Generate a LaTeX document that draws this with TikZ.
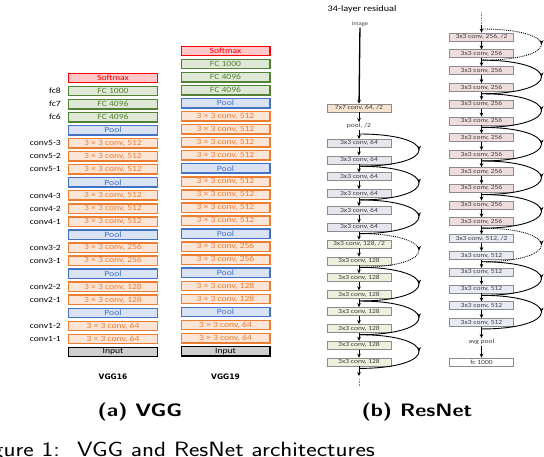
\documentclass[tikz,border=0pt]{standalone}
\usepackage{fontspec}
\usepackage{graphicx}
\newfontfamily\cf[FakeStretch=1.2]{Carlito}
\newfontfamily\dvfont{DejaVu Sans}
\usetikzlibrary{arrows.meta,decorations.markings}
\definecolor{convB}{HTML}{ED7D31}
\definecolor{convF}{HTML}{FBE5D6}
\definecolor{fcB}{HTML}{548235}
\definecolor{fcF}{HTML}{DFE8D6}
\definecolor{plB}{HTML}{4472C4}
\definecolor{plF}{HTML}{DAE3F3}
\definecolor{smB}{HTML}{FF0000}
\definecolor{smF}{HTML}{FFC9CC}
\definecolor{inF}{HTML}{D0CECE}
\definecolor{rbd}{HTML}{8C8C8C}
\definecolor{rtx}{HTML}{404040}
\definecolor{cS}{HTML}{F6E4D0}
\definecolor{cA}{HTML}{E6E6EF}
\definecolor{cB}{HTML}{EEEFDC}
\definecolor{cC}{HTML}{EFDDDD}
\definecolor{cD}{HTML}{E8EBF4}
\newcommand\cvA{3 × 3 conv, 64}
\newcommand\cvB{3 × 3 conv, 128}
\newcommand\cvC{3 × 3 conv, 256}
\newcommand\cvE{3 × 3 conv, 512}
\begin{document}
\begin{tikzpicture}[x=1pt,y=-1pt,
  vbox/.style={draw, line width=1.4pt, minimum width=88.6pt, minimum height=9.4pt, inner sep=0pt, font=\cf\fontsize{8}{8}\selectfont},
  vconv/.style={vbox, draw=convB, fill=convF, text=convB},
  vfc/.style={vbox, draw=fcB, fill=fcF, text=fcB},
  vpool/.style={vbox, draw=plB, fill=plF, text=plB},
  vsoft/.style={vbox, draw=smB, fill=smF, text=smB},
  vinput/.style={vbox, draw=black, fill=inF, text=black},
  vlab/.style={anchor=east, inner sep=0pt, font=\cf\fontsize{8}{8}\selectfont},
  vname/.style={inner sep=0pt, font=\dvfont\bfseries\fontsize{7.5}{7.5}\selectfont},
  rbox/.style={draw=rbd, line width=0.7pt, minimum width=64pt, minimum height=8pt, inner sep=0pt, text=rtx, font=\cf\fontsize{6.3}{6.3}\selectfont},
  rtext/.style={inner sep=1pt, text=rtx, font=\cf\fontsize{6.3}{6.3}\selectfont},
  arr/.style={-{Stealth[length=4pt,width=3.6pt]}, line width=0.9pt},
  resskip/.style={line width=0.9pt, postaction={decorate}, decoration={markings, mark=at position 0.5 with {\arrow{Stealth[length=4.5pt,width=4pt]}}}},
  resdot/.style={resskip, densely dotted},
  capt/.style={inner sep=0pt}
]
\useasboundingbox (0,0) rectangle (544,456);
\clip (0,0) rectangle (544,456);
\fill[white] (0,0) rectangle (544,456);

% ---------------- VGG16 ----------------
\foreach \st/\tx [count=\i from 0] in {vsoft/Softmax, vfc/FC 1000, vfc/FC 4096, vfc/FC 4096, vpool/Pool, vconv/\cvE, vconv/\cvE, vconv/\cvE, vpool/Pool, vconv/\cvE, vconv/\cvE, vconv/\cvE, vpool/Pool, vconv/\cvC, vconv/\cvC, vpool/Pool, vconv/\cvB, vconv/\cvB, vpool/Pool, vconv/\cvA, vconv/\cvA, vinput/Input}
  \node[\st] (a\i) at (113, 78+13.05*\i) {\tx};
\foreach \lb/\i in {fc8/1, fc7/2, fc6/3, conv5-3/5, conv5-2/6, conv5-1/7, conv4-3/9, conv4-2/10, conv4-1/11, conv3-2/13, conv3-1/14, conv2-2/16, conv2-1/17, conv1-2/19, conv1-1/20}
  \node[vlab] (la\i) at ([xshift=-7pt]a\i.west) {\lb};
\node[vname] (n16) at (113,377) {VGG16};

% ---------------- VGG19 ----------------
\foreach \st/\tx [count=\i from 0] in {vsoft/Softmax, vfc/FC 1000, vfc/FC 4096, vfc/FC 4096, vpool/Pool, vconv/\cvE, vconv/\cvE, vconv/\cvE, vconv/\cvE, vpool/Pool, vconv/\cvE, vconv/\cvE, vconv/\cvE, vconv/\cvE, vpool/Pool, vconv/\cvC, vconv/\cvC, vpool/Pool, vconv/\cvB, vconv/\cvB, vpool/Pool, vconv/\cvA, vconv/\cvA, vinput/Input}
  \node[\st] (b\i) at (225.5, 51+13.05*\i) {\tx};
\node[vname] (n19) at (225.5,377) {VGG19};

% ---------------- ResNet, first column ----------------
\node[inner sep=0pt, text=black, font=\cf\fontsize{8.5}{8.5}\selectfont] (title) at (362,9) {34-layer residual};
\node[rtext, font=\cf\fontsize{5.5}{5.5}\selectfont] (img) at (360,24) {image};
\node[rbox, fill=cS] (s7) at (359,108) {7x7 conv, 64, /2};
\node[rtext] (pool) at (359,126) {pool, /2};
\draw[arr, line width=1.3pt] (img) -- (s7);
\draw[arr] (s7) -- (pool);
\draw[arr] (pool) -- (359,139);
\foreach \i in {0,...,5}
  \node[rbox, fill=cA] (m\i) at (359, 143+16.85*\i) {3x3 conv, 64};
\node[rbox, fill=cB] (m6) at (359, 143+16.85*6) {3x3 conv, 128, /2};
\foreach \i in {7,...,13}
  \node[rbox, fill=cB] (m\i) at (359, 143+16.85*\i) {3x3 conv, 128};
\foreach \i in {0,...,12}{
  \pgfmathtruncatemacro\j{\i+1}
  \draw[arr] (m\i) -- (m\j);
}
\coordinate (mj0) at (359,134);
\foreach \k in {1,...,7}{
  \pgfmathtruncatemacro\n{2*\k-1}
  \coordinate (mj\k) at ([yshift=-2pt]m\n.south);
}
\foreach \k in {0,1,2,4,5,6}{
  \pgfmathtruncatemacro\kk{\k+1}
  \draw[resskip] (mj\k) .. controls +(80,0) and +(80,0) .. (mj\kk);
}
\draw[resdot] (mj3) .. controls +(80,0) and +(80,0) .. (mj4);
\coordinate (mend) at (359,376);
\coordinate (mdot1) at (359,379);
\coordinate (mdot2) at (359,387);
\draw[arr] (m13) -- (mend);
\draw[densely dotted, line width=0.6pt, draw=gray] (mdot1) -- (mdot2);

% ---------------- ResNet, second column ----------------
\coordinate (rtop) at (481.5,12);
\coordinate (rmid) at (481.5,25);
\draw[densely dotted, line width=0.6pt, draw=gray] (rtop) -- (rmid);
\node[rbox, fill=cC] (r0) at (481.5, 37) {3x3 conv, 256, /2};
\draw[arr] (rmid) -- (r0);
\foreach \i in {1,...,11}
  \node[rbox, fill=cC] (r\i) at (481.5, 37+16.8*\i) {3x3 conv, 256};
\node[rbox, fill=cD] (r12) at (481.5, 37+16.8*12) {3x3 conv, 512, /2};
\foreach \i in {13,...,17}
  \node[rbox, fill=cD] (r\i) at (481.5, 37+16.8*\i) {3x3 conv, 512};
\foreach \i in {0,...,16}{
  \pgfmathtruncatemacro\j{\i+1}
  \draw[arr] (r\i) -- (r\j);
}
\coordinate (rj0) at (481.5,29);
\foreach \k in {1,...,9}{
  \pgfmathtruncatemacro\n{2*\k-1}
  \coordinate (rj\k) at ([yshift=-2pt]r\n.south);
}
\foreach \k in {1,2,3,4,5,7,8}{
  \pgfmathtruncatemacro\kk{\k+1}
  \draw[resskip] (rj\k) .. controls +(80,0) and +(80,0) .. (rj\kk);
}
\draw[resdot] (rj0) .. controls +(80,0) and +(80,0) .. (rj1);
\draw[resdot] (rj6) .. controls +(80,0) and +(80,0) .. (rj7);
\node[rtext] (avg) at (481.5,342) {avg pool};
\node[rbox, fill=white] (fcr) at (481.5,362) {fc 1000};
\draw[arr] (r17) -- (avg);
\draw[arr] (avg) -- (fcr);

% ---------------- captions ----------------
\node[capt, anchor=base] (capa) at (140,416) {\scalebox{1.2}[1]{\sffamily\bfseries\fontsize{18}{18}\selectfont (a) VGG}};
\node[capt, anchor=base] (capb) at (417,416) {\scalebox{1.2}[1]{\sffamily\bfseries\fontsize{18}{18}\selectfont (b) ResNet}};
\node[capt, anchor=base east] (fig1) at (60,456) {\scalebox{1.2}[1]{\sffamily\fontsize{20.7}{20.7}\selectfont Figure 1:}};
\node[capt, anchor=base west] (fig2) at (77,456) {\scalebox{1.2}[1]{\sffamily\fontsize{20.7}{20.7}\selectfont VGG and ResNet architectures}};
\end{tikzpicture}
\end{document}
